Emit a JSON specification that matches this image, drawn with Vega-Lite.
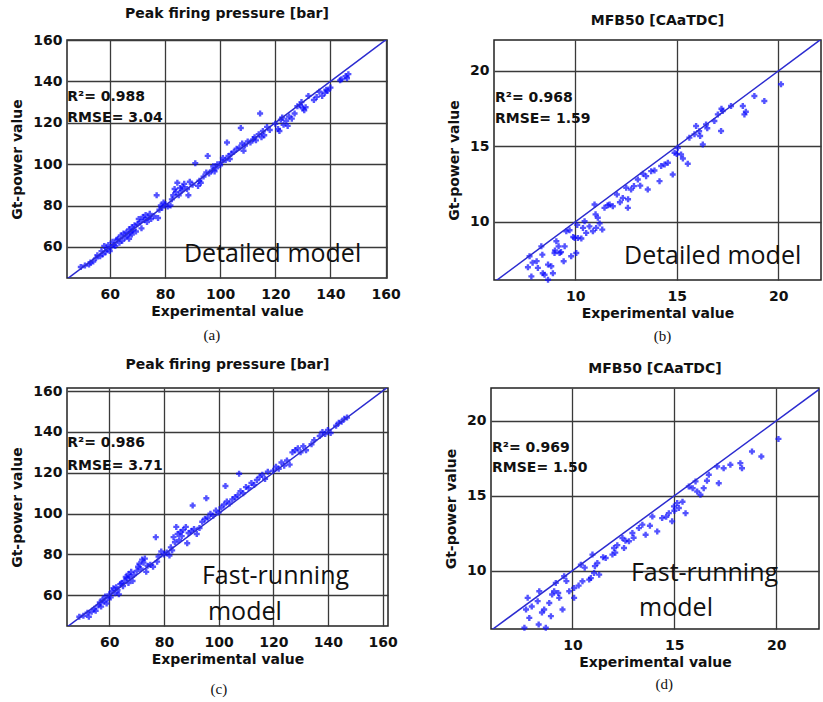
{
"$schema":"https://vega.github.io/schema/vega-lite/v6.json",
"background":"white",
"padding":{"left":10,"top":6,"right":0,"bottom":0},
"datasets":{
"a":[{"x":49.5,"y":50.3},{"x":51,"y":51},{"x":52.5,"y":51.5},{"x":53,"y":52.5},{"x":54,"y":53},{"x":55,"y":54.5},{"x":55.5,"y":56},{"x":56.5,"y":55.5},{"x":57,"y":58},{"x":57.5,"y":56.5},{"x":58,"y":60.5},{"x":58.5,"y":57.5},{"x":59,"y":59},{"x":59.5,"y":61},{"x":60,"y":58},{"x":60.5,"y":60},{"x":61,"y":62.5},{"x":61.5,"y":61},{"x":62,"y":60.5},{"x":62.5,"y":63.5},{"x":63,"y":64},{"x":63.5,"y":62},{"x":64,"y":65.5},{"x":64.5,"y":63},{"x":65,"y":66.5},{"x":65.5,"y":64.5},{"x":66,"y":67},{"x":66.5,"y":65.5},{"x":67,"y":68.5},{"x":67,"y":64},{"x":67.5,"y":67},{"x":68,"y":69.5},{"x":68,"y":66},{"x":68.5,"y":68},{"x":69,"y":70.5},{"x":69.5,"y":67.5},{"x":70,"y":71},{"x":70.5,"y":73.5},{"x":71,"y":72},{"x":71.5,"y":69},{"x":72,"y":74.5},{"x":72.5,"y":73},{"x":73,"y":75.5},{"x":73.5,"y":72},{"x":74,"y":74},{"x":74.5,"y":76},{"x":75,"y":73.5},{"x":76,"y":75},{"x":77,"y":85},{"x":77.5,"y":74},{"x":78,"y":78},{"x":78.5,"y":80},{"x":79,"y":79},{"x":79.5,"y":81.5},{"x":80,"y":80.5},{"x":81,"y":79.5},{"x":82,"y":80},{"x":82.5,"y":83},{"x":83,"y":85},{"x":83.5,"y":88},{"x":84,"y":86.5},{"x":84.5,"y":91},{"x":85,"y":85},{"x":85.5,"y":88.5},{"x":86,"y":87},{"x":86.5,"y":89},{"x":87,"y":90.5},{"x":88,"y":88},{"x":88.5,"y":85},{"x":89,"y":91.5},{"x":90,"y":90},{"x":91,"y":100.5},{"x":92,"y":89.5},{"x":92.5,"y":92},{"x":93,"y":91},{"x":94,"y":94},{"x":95,"y":96},{"x":95.5,"y":104},{"x":96,"y":95.5},{"x":97,"y":97},{"x":97.5,"y":99},{"x":98,"y":96.5},{"x":98.5,"y":98},{"x":99,"y":100},{"x":100,"y":99.5},{"x":100.5,"y":101},{"x":101,"y":103},{"x":102,"y":102},{"x":102.5,"y":110.5},{"x":103,"y":104},{"x":103.5,"y":102.5},{"x":104,"y":105},{"x":105,"y":106},{"x":106,"y":107.5},{"x":107,"y":108},{"x":107.5,"y":117.5},{"x":108,"y":110},{"x":108.5,"y":106.5},{"x":109,"y":109},{"x":110,"y":111},{"x":111,"y":110.5},{"x":112,"y":112},{"x":112.5,"y":113},{"x":113,"y":111.5},{"x":114,"y":114.5},{"x":114.5,"y":124.5},{"x":115,"y":113},{"x":115.5,"y":116},{"x":116,"y":114},{"x":117,"y":118},{"x":118,"y":116.5},{"x":120,"y":119.5},{"x":121,"y":117},{"x":121.5,"y":116},{"x":122,"y":121.5},{"x":122.5,"y":122.5},{"x":123,"y":119},{"x":124,"y":121},{"x":124.5,"y":118.5},{"x":125,"y":123},{"x":126,"y":122},{"x":127,"y":124.5},{"x":128,"y":128},{"x":129,"y":128.5},{"x":129.5,"y":130},{"x":130,"y":127},{"x":130.5,"y":126},{"x":131,"y":127.5},{"x":132,"y":133},{"x":134,"y":131},{"x":135,"y":132.5},{"x":136,"y":135},{"x":137,"y":133},{"x":138,"y":134.5},{"x":138.5,"y":136},{"x":139,"y":135.5},{"x":140,"y":137},{"x":143.5,"y":140.5},{"x":144,"y":141},{"x":145.5,"y":142.5},{"x":146,"y":141.5},{"x":146.5,"y":143.5}],
"c":[{"x":49,"y":49.5},{"x":50.5,"y":50},{"x":52,"y":51.5},{"x":52.5,"y":49.5},{"x":53.5,"y":52},{"x":54.5,"y":53.5},{"x":55,"y":52.5},{"x":56,"y":55},{"x":56.5,"y":56.5},{"x":57,"y":54.5},{"x":57.5,"y":58},{"x":58,"y":57},{"x":58.5,"y":59.5},{"x":59,"y":56},{"x":59.5,"y":58.5},{"x":60,"y":60.5},{"x":60.5,"y":59},{"x":61,"y":62},{"x":61.5,"y":63.5},{"x":62,"y":61},{"x":62.5,"y":64},{"x":63,"y":62.5},{"x":63.5,"y":60.5},{"x":64,"y":65.5},{"x":64.5,"y":66},{"x":65,"y":64.5},{"x":65.5,"y":67},{"x":66,"y":69},{"x":66.5,"y":68.5},{"x":67,"y":70.5},{"x":67,"y":66},{"x":67.5,"y":69},{"x":68,"y":71.5},{"x":68.5,"y":67},{"x":69,"y":70},{"x":70,"y":72},{"x":70.5,"y":74},{"x":71,"y":75.5},{"x":71.5,"y":73},{"x":72,"y":77.5},{"x":72.5,"y":76},{"x":73,"y":78},{"x":73.5,"y":71.5},{"x":74,"y":74.5},{"x":75,"y":75},{"x":76,"y":74},{"x":77,"y":88.5},{"x":77.5,"y":76.5},{"x":78,"y":79},{"x":79,"y":81.5},{"x":80,"y":80},{"x":81,"y":81},{"x":82,"y":79.5},{"x":82.5,"y":83.5},{"x":83,"y":82},{"x":83.5,"y":88.5},{"x":84,"y":86},{"x":84.5,"y":93.5},{"x":85,"y":90},{"x":85.5,"y":87},{"x":86,"y":91},{"x":86.5,"y":89},{"x":87,"y":92},{"x":88,"y":93.5},{"x":88.5,"y":85.5},{"x":89,"y":90.5},{"x":90,"y":91.5},{"x":90.5,"y":104},{"x":91,"y":92.5},{"x":92,"y":90},{"x":93,"y":93},{"x":94,"y":96},{"x":95,"y":97.5},{"x":95.5,"y":107.5},{"x":96,"y":98},{"x":97,"y":100},{"x":98,"y":99},{"x":99,"y":101.5},{"x":100,"y":100.5},{"x":101,"y":103},{"x":102,"y":104.5},{"x":102.5,"y":113.5},{"x":103,"y":106},{"x":104,"y":105},{"x":105,"y":107},{"x":106,"y":108},{"x":107,"y":109},{"x":107.5,"y":119.5},{"x":108,"y":111},{"x":109,"y":110},{"x":110,"y":113},{"x":111,"y":112.5},{"x":112,"y":115},{"x":113,"y":114},{"x":114,"y":116.5},{"x":115,"y":118},{"x":116,"y":119},{"x":117,"y":117},{"x":118,"y":120.5},{"x":120,"y":121},{"x":121,"y":123},{"x":122,"y":122},{"x":123,"y":125},{"x":124,"y":123.5},{"x":125,"y":126},{"x":126,"y":124},{"x":127,"y":130},{"x":128,"y":131},{"x":129,"y":132},{"x":130,"y":130},{"x":131,"y":133},{"x":132,"y":131},{"x":134,"y":134},{"x":135,"y":136},{"x":137,"y":138},{"x":138,"y":140},{"x":139,"y":139},{"x":140,"y":141},{"x":141,"y":139.5},{"x":143,"y":143},{"x":144,"y":144.5},{"x":145,"y":145},{"x":146,"y":146.5},{"x":147,"y":147}],
"b":[{"x":7.75,"y":7.72},{"x":7.67,"y":6.99},{"x":7.84,"y":6.39},{"x":8.33,"y":8.38},{"x":8.38,"y":7.83},{"x":8.16,"y":6.95},{"x":8.49,"y":6.5},{"x":8.66,"y":6.17},{"x":8.66,"y":7.17},{"x":8.82,"y":7.06},{"x":8.9,"y":6.6},{"x":9.07,"y":8.72},{"x":9.18,"y":8.38},{"x":8.98,"y":7.94},{"x":9.48,"y":8.38},{"x":9.23,"y":7.94},{"x":9.56,"y":9.38},{"x":9.72,"y":9.45},{"x":9.43,"y":7.39},{"x":9.8,"y":7.72},{"x":10.05,"y":7.94},{"x":9.97,"y":8.94},{"x":10.13,"y":8.94},{"x":10.38,"y":9.6},{"x":10.46,"y":10.04},{"x":10.54,"y":9.27},{"x":10.87,"y":9.38},{"x":11.03,"y":9.6},{"x":10.95,"y":11.15},{"x":11.11,"y":10.27},{"x":11.33,"y":9.49},{"x":11.44,"y":10.93},{"x":11.69,"y":11.15},{"x":11.85,"y":11.04},{"x":12.05,"y":11.81},{"x":12.34,"y":11.59},{"x":12.51,"y":12.26},{"x":12.59,"y":10.93},{"x":12.75,"y":12.15},{"x":12.89,"y":12.37},{"x":13.08,"y":12.81},{"x":13.33,"y":13.19},{"x":13.49,"y":13.03},{"x":13.57,"y":12.15},{"x":13.74,"y":13.36},{"x":14.15,"y":12.7},{"x":14.23,"y":13.7},{"x":14.56,"y":13.92},{"x":14.8,"y":13.14},{"x":14.89,"y":14.58},{"x":15.05,"y":14.91},{"x":15.21,"y":14.47},{"x":15.54,"y":13.85},{"x":15.62,"y":15.58},{"x":15.87,"y":15.8},{"x":15.95,"y":16.35},{"x":16.28,"y":15.13},{"x":16.15,"y":15.69},{"x":16.44,"y":16.46},{"x":16.85,"y":16.68},{"x":17.02,"y":17.12},{"x":17.18,"y":16.02},{"x":17.26,"y":17.35},{"x":17.67,"y":17.68},{"x":18.25,"y":17.68},{"x":18.33,"y":17.12},{"x":18.82,"y":18.34},{"x":19.31,"y":18.01},{"x":20.13,"y":19.12},{"x":9.0,"y":8.1},{"x":8.1,"y":7.4},{"x":9.9,"y":9.0},{"x":10.3,"y":8.9},{"x":10.7,"y":9.7},{"x":11.2,"y":9.9},{"x":12.2,"y":11.3},{"x":12.6,"y":11.5},{"x":13.9,"y":13.4},{"x":15.0,"y":14.5},{"x":15.3,"y":14.2},{"x":16.1,"y":16.0},{"x":16.5,"y":16.2},{"x":17.2,"y":17.5},{"x":18.4,"y":17.3},{"x":8.4,"y":6.6},{"x":7.9,"y":7.3},{"x":9.3,"y":8.0},{"x":10.1,"y":9.8},{"x":11.0,"y":10.5},{"x":11.6,"y":11.1},{"x":13.2,"y":12.4},{"x":14.4,"y":13.8}],
"d":[{"x":7.8,"y":8.18},{"x":7.72,"y":7.4},{"x":7.88,"y":6.84},{"x":7.64,"y":6.18},{"x":8.37,"y":8.62},{"x":8.29,"y":7.96},{"x":8.34,"y":6.4},{"x":8.61,"y":7.4},{"x":8.69,"y":6.18},{"x":8.94,"y":6.96},{"x":8.86,"y":7.84},{"x":9.18,"y":9.18},{"x":9.35,"y":8.18},{"x":9.1,"y":8.62},{"x":9.59,"y":9.62},{"x":9.51,"y":7.4},{"x":9.84,"y":8.62},{"x":10.08,"y":8.84},{"x":10.08,"y":8.18},{"x":10.41,"y":10.4},{"x":10.49,"y":9.29},{"x":10.82,"y":9.4},{"x":11.06,"y":9.84},{"x":10.98,"y":11.07},{"x":11.31,"y":9.73},{"x":11.22,"y":10.51},{"x":11.63,"y":10.84},{"x":11.96,"y":11.07},{"x":12.04,"y":11.51},{"x":12.45,"y":12.18},{"x":12.53,"y":11.51},{"x":12.77,"y":11.96},{"x":12.94,"y":12.51},{"x":13.26,"y":12.84},{"x":13.59,"y":12.4},{"x":13.43,"y":13.07},{"x":13.92,"y":13.62},{"x":14.16,"y":12.62},{"x":14.4,"y":13.51},{"x":14.73,"y":13.84},{"x":14.89,"y":13.29},{"x":14.98,"y":14.29},{"x":15.14,"y":14.51},{"x":15.22,"y":14.18},{"x":15.55,"y":13.84},{"x":15.71,"y":15.62},{"x":16.04,"y":15.96},{"x":16.12,"y":15.29},{"x":16.28,"y":15.07},{"x":16.44,"y":15.51},{"x":16.69,"y":16.4},{"x":17.1,"y":16.96},{"x":17.18,"y":15.84},{"x":17.42,"y":16.84},{"x":17.75,"y":17.07},{"x":18.24,"y":17.18},{"x":18.32,"y":16.84},{"x":18.81,"y":17.96},{"x":19.27,"y":17.62},{"x":20.11,"y":18.8},{"x":8.0,"y":7.6},{"x":9.0,"y":8.4},{"x":9.7,"y":9.3},{"x":10.3,"y":9.0},{"x":10.6,"y":10.2},{"x":11.1,"y":10.3},{"x":11.5,"y":10.9},{"x":12.2,"y":11.7},{"x":12.6,"y":12.0},{"x":13.0,"y":12.2},{"x":13.8,"y":13.0},{"x":14.6,"y":13.6},{"x":15.0,"y":14.0},{"x":15.4,"y":14.6},{"x":15.9,"y":15.5},{"x":16.6,"y":16.0},{"x":8.5,"y":7.2},{"x":9.3,"y":8.5},{"x":10.9,"y":9.5},{"x":12.1,"y":11.2}],
"diag":[{"p":"big","x":40,"y":40},{"p":"big","x":170,"y":170},{"p":"small","x":4,"y":4},{"p":"small","x":25,"y":25}],
"labels":[
{"p":"a","k":"stat","t":"R²= 0.988","x":44.6,"y":132.5},
{"p":"a","k":"stat","t":"RMSE= 3.04","x":44.6,"y":122.3},
{"p":"a","k":"model","t":"Detailed model","x":86.9,"y":56.6},
{"p":"a","k":"cap","t":"(a)","x":97,"y":17.5},
{"p":"b","k":"stat","t":"R²= 0.968","x":6.05,"y":18.2},
{"p":"b","k":"stat","t":"RMSE= 1.59","x":6.05,"y":16.8},
{"p":"b","k":"model","t":"Detailed model","x":12.4,"y":7.74},
{"p":"b","k":"cap","t":"(b)","x":14.3,"y":2.45},
{"p":"c","k":"stat","t":"R²= 0.986","x":44.6,"y":134.6},
{"p":"c","k":"stat","t":"RMSE= 3.71","x":44.6,"y":123.3},
{"p":"c","k":"model","t":"Fast-running","x":93.9,"y":69.5},
{"p":"c","k":"model","t":"model","x":96.1,"y":51.9},
{"p":"c","k":"cap","t":"(c)","x":100.1,"y":14.2},
{"p":"d","k":"stat","t":"R²= 0.969","x":6.05,"y":18.2},
{"p":"d","k":"stat","t":"RMSE= 1.50","x":6.05,"y":16.86},
{"p":"d","k":"model","t":"Fast-running","x":12.87,"y":9.84},
{"p":"d","k":"model","t":"model","x":13.27,"y":7.5},
{"p":"d","k":"cap","t":"(d)","x":14.5,"y":2.4}
]
},
"vconcat":[
{"hconcat":[
{"width":320,"height":238,"title":{"text":"Peak firing pressure [bar]"},
"layer":[
{"data":{"name":"a"},"mark":{"type":"point","shape":"cross","filled":true,"size":36,"color":"#0a0aff"},
"encoding":{"x":{"field":"x","type":"quantitative","scale":{"domain":[44.5,160.5],"nice":false,"zero":false},"axis":{"values":[60,80,100,120,140,160],"title":"Experimental value"}},
"y":{"field":"y","type":"quantitative","scale":{"domain":[45,160],"nice":false,"zero":false},"axis":{"values":[60,80,100,120,140,160],"title":"Gt-power value"}}}},
{"data":{"name":"diag"},"transform":[{"filter":"datum.p=='big'"}],"mark":{"type":"line","clip":true,"color":"#2b2bd0","strokeWidth":1.5},"encoding":{"x":{"field":"x","type":"quantitative"},"y":{"field":"y","type":"quantitative"}}},
{"data":{"name":"labels"},"transform":[{"filter":"datum.p=='a' && datum.k=='stat'"}],"mark":{"type":"text","align":"left","baseline":"middle","font":"DejaVu Sans","fontWeight":"bold","fontSize":14,"color":"#111"},"encoding":{"x":{"field":"x","type":"quantitative"},"y":{"field":"y","type":"quantitative"},"text":{"field":"t"}}},
{"data":{"name":"labels"},"transform":[{"filter":"datum.p=='a' && datum.k=='model'"}],"mark":{"type":"text","align":"left","baseline":"middle","font":"Open Sans","fontSize":25,"color":"#111"},"encoding":{"x":{"field":"x","type":"quantitative"},"y":{"field":"y","type":"quantitative"},"text":{"field":"t"}}},
{"data":{"name":"labels"},"transform":[{"filter":"datum.p=='a' && datum.k=='cap'"}],"mark":{"type":"text","align":"center","baseline":"middle","font":"Liberation Serif","fontSize":15,"color":"#111"},"encoding":{"x":{"field":"x","type":"quantitative"},"y":{"field":"y","type":"quantitative"},"text":{"field":"t"}}}
]},
{"width":327,"height":240,"title":{"text":"MFB50 [CAaTDC]"},
"layer":[
{"data":{"name":"b"},"mark":{"type":"point","shape":"cross","filled":true,"size":36,"color":"#0a0aff"},
"encoding":{"x":{"field":"x","type":"quantitative","scale":{"domain":[6,22.1],"nice":false,"zero":false},"axis":{"values":[10,15,20],"title":"Experimental value"}},
"y":{"field":"y","type":"quantitative","scale":{"domain":[6.15,22.05],"nice":false,"zero":false},"axis":{"values":[10,15,20],"title":"Gt-power value"}}}},
{"data":{"name":"diag"},"transform":[{"filter":"datum.p=='small'"}],"mark":{"type":"line","clip":true,"color":"#2b2bd0","strokeWidth":1.5},"encoding":{"x":{"field":"x","type":"quantitative"},"y":{"field":"y","type":"quantitative"}}},
{"data":{"name":"labels"},"transform":[{"filter":"datum.p=='b' && datum.k=='stat'"}],"mark":{"type":"text","align":"left","baseline":"middle","font":"DejaVu Sans","fontWeight":"bold","fontSize":14,"color":"#111"},"encoding":{"x":{"field":"x","type":"quantitative"},"y":{"field":"y","type":"quantitative"},"text":{"field":"t"}}},
{"data":{"name":"labels"},"transform":[{"filter":"datum.p=='b' && datum.k=='model'"}],"mark":{"type":"text","align":"left","baseline":"middle","font":"Open Sans","fontSize":25,"color":"#111"},"encoding":{"x":{"field":"x","type":"quantitative"},"y":{"field":"y","type":"quantitative"},"text":{"field":"t"}}},
{"data":{"name":"labels"},"transform":[{"filter":"datum.p=='b' && datum.k=='cap'"}],"mark":{"type":"text","align":"center","baseline":"middle","font":"Liberation Serif","fontSize":15,"color":"#111"},"encoding":{"x":{"field":"x","type":"quantitative"},"y":{"field":"y","type":"quantitative"},"text":{"field":"t"}}}
]}
],"spacing":45},
{"hconcat":[
{"width":321,"height":238,"title":{"text":"Peak firing pressure [bar]"},
"layer":[
{"data":{"name":"c"},"mark":{"type":"point","shape":"cross","filled":true,"size":36,"color":"#0a0aff"},
"encoding":{"x":{"field":"x","type":"quantitative","scale":{"domain":[44.5,162],"nice":false,"zero":false},"axis":{"values":[60,80,100,120,140,160],"title":"Experimental value"}},
"y":{"field":"y","type":"quantitative","scale":{"domain":[45,161.5],"nice":false,"zero":false},"axis":{"values":[60,80,100,120,140,160],"title":"Gt-power value"}}}},
{"data":{"name":"diag"},"transform":[{"filter":"datum.p=='big'"}],"mark":{"type":"line","clip":true,"color":"#2b2bd0","strokeWidth":1.5},"encoding":{"x":{"field":"x","type":"quantitative"},"y":{"field":"y","type":"quantitative"}}},
{"data":{"name":"labels"},"transform":[{"filter":"datum.p=='c' && datum.k=='stat'"}],"mark":{"type":"text","align":"left","baseline":"middle","font":"DejaVu Sans","fontWeight":"bold","fontSize":14,"color":"#111"},"encoding":{"x":{"field":"x","type":"quantitative"},"y":{"field":"y","type":"quantitative"},"text":{"field":"t"}}},
{"data":{"name":"labels"},"transform":[{"filter":"datum.p=='c' && datum.k=='model'"}],"mark":{"type":"text","align":"left","baseline":"middle","font":"Open Sans","fontSize":25,"color":"#111"},"encoding":{"x":{"field":"x","type":"quantitative"},"y":{"field":"y","type":"quantitative"},"text":{"field":"t"}}},
{"data":{"name":"labels"},"transform":[{"filter":"datum.p=='c' && datum.k=='cap'"}],"mark":{"type":"text","align":"center","baseline":"middle","font":"Liberation Serif","fontSize":15,"color":"#111"},"encoding":{"x":{"field":"x","type":"quantitative"},"y":{"field":"y","type":"quantitative"},"text":{"field":"t"}}}
]},
{"width":328,"height":241,"title":{"text":"MFB50 [CAaTDC]"},
"layer":[
{"data":{"name":"d"},"mark":{"type":"point","shape":"cross","filled":true,"size":36,"color":"#0a0aff"},
"encoding":{"x":{"field":"x","type":"quantitative","scale":{"domain":[6,22.1],"nice":false,"zero":false},"axis":{"values":[10,15,20],"title":"Experimental value"}},
"y":{"field":"y","type":"quantitative","scale":{"domain":[6.1,22.2],"nice":false,"zero":false},"axis":{"values":[10,15,20],"title":"Gt-power value"}}}},
{"data":{"name":"diag"},"transform":[{"filter":"datum.p=='small'"}],"mark":{"type":"line","clip":true,"color":"#2b2bd0","strokeWidth":1.5},"encoding":{"x":{"field":"x","type":"quantitative"},"y":{"field":"y","type":"quantitative"}}},
{"data":{"name":"labels"},"transform":[{"filter":"datum.p=='d' && datum.k=='stat'"}],"mark":{"type":"text","align":"left","baseline":"middle","font":"DejaVu Sans","fontWeight":"bold","fontSize":14,"color":"#111"},"encoding":{"x":{"field":"x","type":"quantitative"},"y":{"field":"y","type":"quantitative"},"text":{"field":"t"}}},
{"data":{"name":"labels"},"transform":[{"filter":"datum.p=='d' && datum.k=='model'"}],"mark":{"type":"text","align":"left","baseline":"middle","font":"Open Sans","fontSize":25,"color":"#111"},"encoding":{"x":{"field":"x","type":"quantitative"},"y":{"field":"y","type":"quantitative"},"text":{"field":"t"}}},
{"data":{"name":"labels"},"transform":[{"filter":"datum.p=='d' && datum.k=='cap'"}],"mark":{"type":"text","align":"center","baseline":"middle","font":"Liberation Serif","fontSize":15,"color":"#111"},"encoding":{"x":{"field":"x","type":"quantitative"},"y":{"field":"y","type":"quantitative"},"text":{"field":"t"}}}
]}
],"spacing":45}
],
"spacing":12,
"config":{
"axis":{"labelFont":"DejaVu Sans","labelFontWeight":"bold","labelFontSize":14,"labelColor":"#111","titleFont":"DejaVu Sans","titleFontWeight":"bold","titleFontSize":14,"titleColor":"#111","grid":true,"gridColor":"#3a3a3a","gridWidth":1.3,"gridOpacity":1,"ticks":false,"domain":false,"labelPadding":5,"labelFlush":false,"labelOverlap":false},
"axisX":{"labelPadding":9,"titlePadding":3},
"axisY":{"titlePadding":8},
"title":{"font":"DejaVu Sans","fontWeight":"bold","fontSize":14,"color":"#111","offset":12},
"view":{"stroke":"#222","strokeWidth":1.5}
}
}
